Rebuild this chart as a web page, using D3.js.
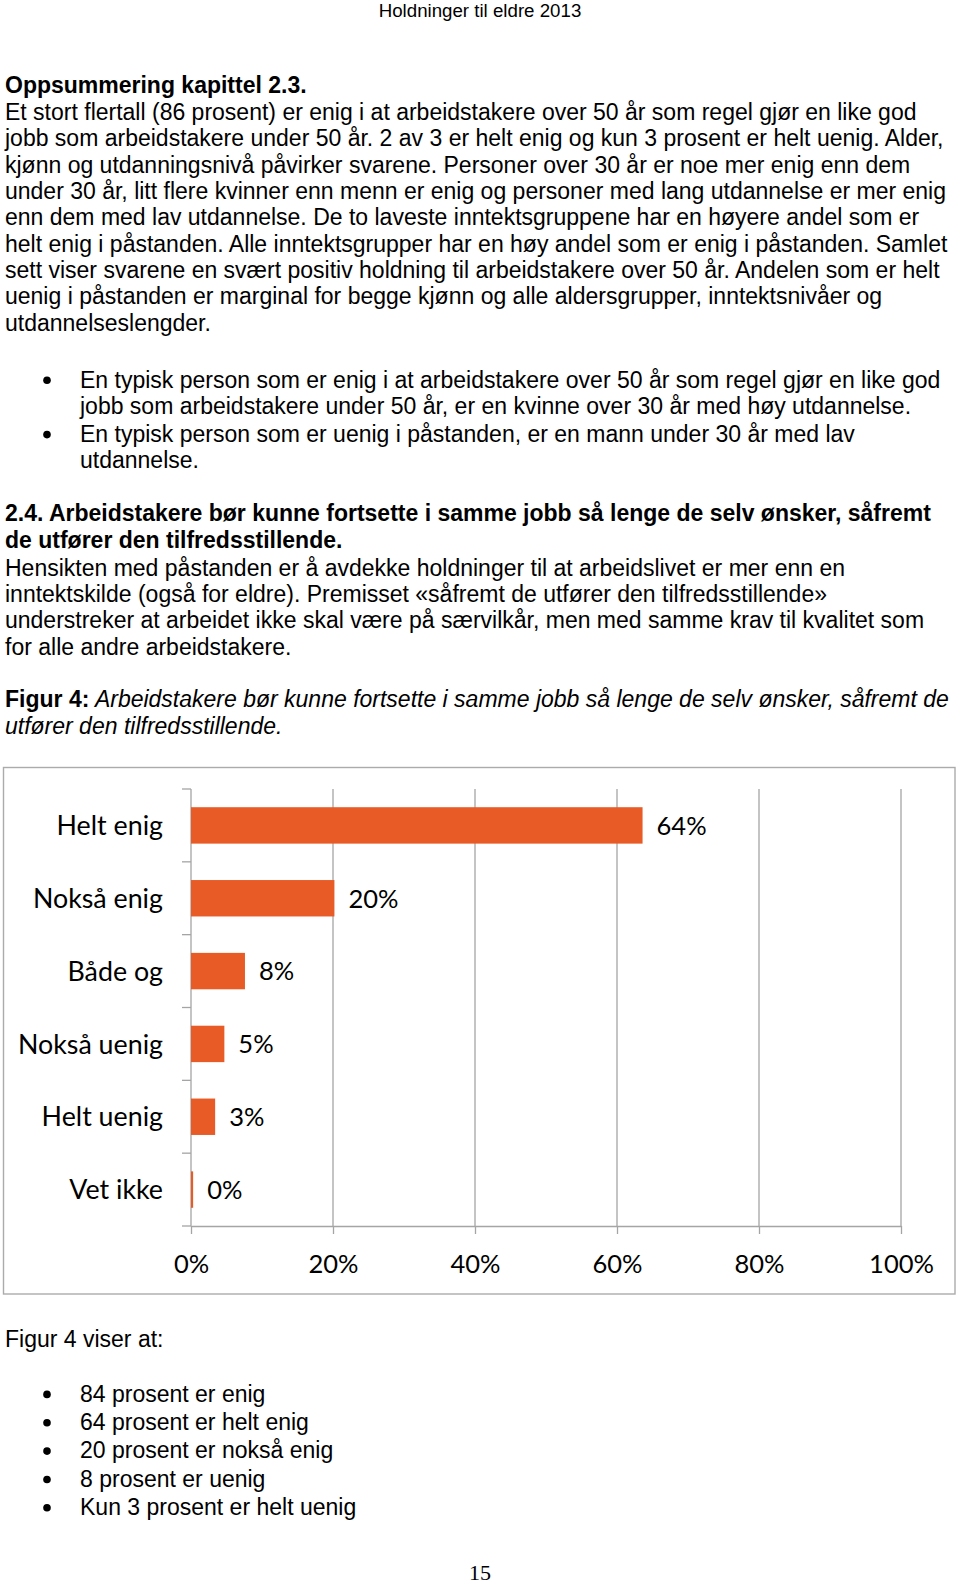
<!DOCTYPE html>
<html><head><meta charset="utf-8">
<script src="https://cdn.jsdelivr.net/npm/d3@7"></script>
<style>
html,body{margin:0;padding:0;background:#fff;}
svg{display:block;}
.body{font-family:"Liberation Sans",Arial,sans-serif;font-size:23px;fill:#000;}
.chart text{font-family:Lato,"Open Sans",sans-serif;font-size:25.5px;fill:#000;}
</style></head>
<body>
<script>
// ---- chart data ----
const categories = ["Helt enig","Nokså enig","Både og","Nokså uenig","Helt uenig","Vet ikke"];
const values = [63.6, 20.2, 7.6, 4.7, 3.4, 0.3];
const xTicks = [0, 20, 40, 60, 80, 100];

// ---- page texts ----
const headerText = "Holdninger til eldre 2013";
const summaryHeading = "Oppsummering kapittel 2.3.";
const summaryLines = [
 "Et stort flertall (86 prosent) er enig i at arbeidstakere over 50 år som regel gjør en like god",
 "jobb som arbeidstakere under 50 år. 2 av 3 er helt enig og kun 3 prosent er helt uenig. Alder,",
 "kjønn og utdanningsnivå påvirker svarene. Personer over 30 år er noe mer enig enn dem",
 "under 30 år, litt flere kvinner enn menn er enig og personer med lang utdannelse er mer enig",
 "enn dem med lav utdannelse. De to laveste inntektsgruppene har en høyere andel som er",
 "helt enig i påstanden. Alle inntektsgrupper har en høy andel som er enig i påstanden. Samlet",
 "sett viser svarene en svært positiv holdning til arbeidstakere over 50 år. Andelen som er helt",
 "uenig i påstanden er marginal for begge kjønn og alle aldersgrupper, inntektsnivåer og",
 "utdannelseslengder."
];
const bullets1 = [
 ["En typisk person som er enig i at arbeidstakere over 50 år som regel gjør en like god",
  "jobb som arbeidstakere under 50 år, er en kvinne over 30 år med høy utdannelse."],
 ["En typisk person som er uenig i påstanden, er en mann under 30 år med lav",
  "utdannelse."]
];
const sectionHeading = [
 "2.4. Arbeidstakere bør kunne fortsette i samme jobb så lenge de selv ønsker, såfremt",
 "de utfører den tilfredsstillende."
];
const sectionLines = [
 "Hensikten med påstanden er å avdekke holdninger til at arbeidslivet er mer enn en",
 "inntektskilde (også for eldre). Premisset «såfremt de utfører den tilfredsstillende»",
 "understreker at arbeidet ikke skal være på særvilkår, men med samme krav til kvalitet som",
 "for alle andre arbeidstakere."
];
const captionBold = "Figur 4:";
const captionLines = [
 " Arbeidstakere bør kunne fortsette i samme jobb så lenge de selv ønsker, såfremt de",
 "utfører den tilfredsstillende."
];
const afterIntro = "Figur 4 viser at:";
const bullets2 = ["84 prosent er enig","64 prosent er helt enig","20 prosent er nokså enig","8 prosent er uenig","Kun 3 prosent er helt uenig"];
const pageNumber = "15";

const W = 960, H = 1585;
const svg = d3.select("body").append("svg").attr("width", W).attr("height", H);
svg.append("rect").attr("width", W).attr("height", H).attr("fill", "#fff");

const T = svg.append("g").attr("class", "body");
const LH = 26.35;

T.append("text").attr("x", 480).attr("y", 16.5).attr("text-anchor", "middle")
  .style("font-size", "18.7px").text(headerText);

T.append("text").attr("x", 5).attr("y", 93.4).style("font-weight", "bold").text(summaryHeading);
summaryLines.forEach((l, i) => T.append("text").attr("x", 5).attr("y", 119.8 + i * LH).text(l));

function bulletDot(yy) {
  T.append("circle").attr("cx", 47).attr("cy", yy - 7.3).attr("r", 3.8).attr("fill", "#000");
}
const b1y = [387.6, 441.9];
bullets1.forEach((b, i) => {
  bulletDot(b1y[i]);
  b.forEach((l, j) => T.append("text").attr("x", 80).attr("y", b1y[i] + j * LH).text(l));
});

sectionHeading.forEach((l, i) => T.append("text").attr("x", 5).attr("y", 521 + i * 27.3)
  .style("font-weight", "bold").text(l));
sectionLines.forEach((l, i) => T.append("text").attr("x", 5).attr("y", 575.6 + i * LH).text(l));

const cap1 = T.append("text").attr("x", 5).attr("y", 707);
cap1.append("tspan").style("font-weight", "bold").text(captionBold);
cap1.append("tspan").style("font-style", "italic").text(captionLines[0]);
T.append("text").attr("x", 5).attr("y", 734.3).style("font-style", "italic").text(captionLines[1]);

T.append("text").attr("x", 5).attr("y", 1347).text(afterIntro);
bullets2.forEach((l, i) => {
  const yy = 1401.7 + i * 28.35;
  bulletDot(yy);
  T.append("text").attr("x", 80).attr("y", yy).text(l);
});

T.append("text").attr("x", 480).attr("y", 1580).attr("text-anchor", "middle")
  .style("font-family", "'Liberation Serif','Times New Roman',serif").style("font-size", "22px")
  .text(pageNumber);

// ---- chart ----
const C = svg.append("g").attr("class", "chart");
C.append("rect").attr("x", 3.5).attr("y", 767.5).attr("width", 951.5).attr("height", 526.5)
  .attr("fill", "#fff").attr("stroke", "#ababab").attr("stroke-width", 1.4);

const plotTop = 789, plotBottom = 1226;
const x = d3.scaleLinear().domain([0, 100]).range([191, 901]);
const y = d3.scaleBand().domain(categories).range([plotTop, plotBottom]).paddingInner(0.5).paddingOuter(0.25);
const grid = "#a5a5a5";

// vertical gridlines
C.append("g").selectAll("line").data(xTicks.filter(d => d > 0)).join("line")
  .attr("x1", d => x(d)).attr("x2", d => x(d)).attr("y1", plotTop).attr("y2", plotBottom)
  .attr("stroke", grid).attr("stroke-width", 1.3);

// category axis (ticks at category boundaries)
const bIdx = d3.scaleLinear().domain([0, categories.length]).range([plotTop, plotBottom]);
C.append("line").attr("x1", x(0)).attr("x2", x(0)).attr("y1", plotTop).attr("y2", plotBottom)
  .attr("stroke", grid).attr("stroke-width", 1.3);
C.append("g").selectAll("line").data(d3.range(categories.length + 1)).join("line")
  .attr("x1", x(0) - 9).attr("x2", x(0)).attr("y1", d => bIdx(d)).attr("y2", d => bIdx(d))
  .attr("stroke", grid).attr("stroke-width", 1.3);

// value axis
const xAxis = d3.axisBottom(x).tickValues(xTicks).tickSize(8).tickSizeOuter(0).tickFormat(d => d + "%");
const gx = C.append("g").attr("transform", `translate(0,${plotBottom})`).call(xAxis);
gx.select(".domain").attr("stroke", grid).attr("stroke-width", 1.3);
gx.selectAll(".tick line").attr("stroke", grid).attr("stroke-width", 1.3);
gx.selectAll(".tick text").attr("y", 47).attr("dy", 0)
  .style("font-family", "Lato,'Open Sans',sans-serif").style("font-size", "25.5px").attr("fill", "#000");

// bars
C.append("g").selectAll("rect").data(values).join("rect")
  .attr("x", x(0)).attr("y", (d, i) => y(categories[i]))
  .attr("width", d => x(d) - x(0)).attr("height", y.bandwidth())
  .attr("fill", "#e95b26");

// category labels
C.append("g").selectAll("text").data(categories).join("text")
  .attr("x", 163).attr("y", d => y(d) + y.bandwidth() / 2 + 9.6)
  .attr("text-anchor", "end").style("font-size", "26.8px").text(d => d);

// value labels
C.append("g").selectAll("text").data(values).join("text")
  .attr("x", d => x(d) + 14).attr("y", (d, i) => y(categories[i]) + y.bandwidth() / 2 + 9.4)
  .text(d => Math.round(d) + "%");
</script>
</body></html>
